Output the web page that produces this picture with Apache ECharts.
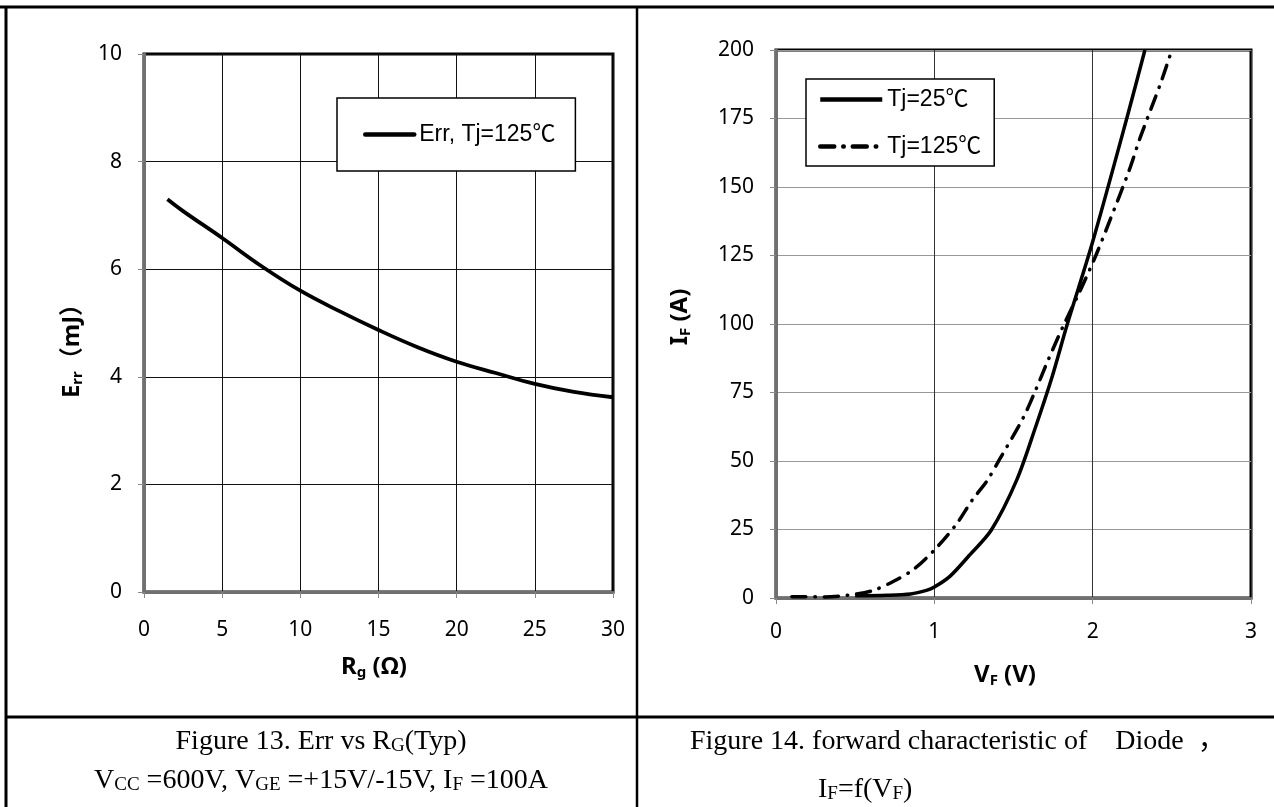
<!DOCTYPE html>
<html>
<head>
<meta charset="utf-8">
<script src="https://cdn.jsdelivr.net/npm/echarts@6/dist/echarts.min.js"></script>
<style>
html,body{margin:0;padding:0;background:#fff;}
#c{width:1274px;height:807px;}
</style>
</head>
<body>
<div id="c"></div>
<script>
// ---- Figure 13 data: Err vs Rg ----
const rgValues = [1.5, 2.5, 5, 7.5, 10, 12.5, 15, 17.5, 20, 22.5, 25, 27.5, 30];
const errValues = [7.3, 7.08, 6.58, 6.06, 5.6, 5.22, 4.87, 4.55, 4.28, 4.07, 3.87, 3.72, 3.62];

// ---- Figure 14 data: forward characteristic ----
const vf25 = [0.5, 0.7, 0.85, 0.95, 1.0, 1.1, 1.22, 1.36, 1.52, 1.64, 1.74, 1.84, 2.0, 2.22, 2.33];
const if25 = [0.8, 1.0, 1.5, 2.8, 4.0, 8.0, 15.5, 24.8, 43, 62.5, 80, 100, 130, 176, 200];
const vf125 = [0.1, 0.3, 0.45, 0.6, 0.74, 0.87, 1.0, 1.14, 1.24, 1.33, 1.41, 1.56, 1.64, 1.72, 1.82, 1.92, 2.02, 2.11, 2.23, 2.30, 2.43, 2.50];
const if125 = [0.5, 0.4, 1.0, 2.5, 6, 10.5, 17.5, 27, 35.8, 42.5, 50.4, 65.6, 75.9, 87, 100, 112, 125, 138, 156, 168, 188, 200];

const seriesNames = ['Err, Tj=125℃', 'Tj=25℃', 'Tj=125℃'];

const zip = (xs, ys) => xs.map((x, i) => [x, ys[i]]);

const tickFont = {fontFamily: 'Noto Sans', fontSize: 21, color: '#000'};
const legendFont = {fontFamily: "'Liberation Sans', 'Noto Sans CJK SC'", fontSize: 23, color: '#000'};
const serif = "'Liberation Serif', 'Noto Sans CJK SC'";
const sans = "'Noto Sans', 'Noto Sans CJK SC'";
const dashDot = [14, 9, 0.5, 9];

const chart = echarts.init(document.getElementById('c'), null, {renderer: 'canvas'});

const titleRich = {
  b: {fontFamily: sans, fontWeight: 'bold', fontSize: 24, fill: '#000', color: '#000'},
  s: {fontFamily: sans, fontWeight: 'bold', fontSize: 15, fill: '#000', color: '#000', padding: [11, 0, 0, 0]}
};
const capRich = {
  t: {fontFamily: serif, fontSize: 28, fill: '#000', color: '#000'},
  s: {fontFamily: serif, fontSize: 19, fill: '#000', color: '#000', padding: [8, 0, 0, 0]}
};

function txt(x, y, text, rich, align, rot) {
  return {
    type: 'text', x: x, y: y, rotation: rot || 0,
    style: {text: text, rich: rich, align: align || 'center', verticalAlign: 'middle'}
  };
}
function line(x1, y1, x2, y2, w) {
  return {type: 'line', shape: {x1, y1, x2, y2}, style: {stroke: '#000', lineWidth: w}};
}

chart.setOption({
  animation: false,
  backgroundColor: '#fff',
  grid: [
    {left: 144, top: 54, width: 469, height: 538, show: true, borderColor: '#000', borderWidth: 3, containLabel: false},
    {left: 776, top: 50, width: 475, height: 548, show: true, borderColor: '#000', borderWidth: 3, containLabel: false}
  ],
  xAxis: [
    {gridIndex: 0, type: 'value', min: 0, max: 30, interval: 5,
     axisLine: {onZero: false, lineStyle: {color: '#707070', width: 3}},
     axisTick: {show: true, length: 6, lineStyle: {color: '#888', width: 1}},
     axisLabel: Object.assign({margin: 28}, tickFont),
     splitLine: {show: true, lineStyle: {color: '#111', width: 1}}},
    {gridIndex: 1, type: 'value', min: 0, max: 3, interval: 1,
     axisLine: {onZero: false, lineStyle: {color: '#707070', width: 3}},
     axisTick: {show: true, length: 6, lineStyle: {color: '#888', width: 1}},
     axisLabel: Object.assign({margin: 24}, tickFont),
     splitLine: {show: true, lineStyle: {color: '#333', width: 1}}}
  ],
  yAxis: [
    {gridIndex: 0, type: 'value', min: 0, max: 10, interval: 2,
     axisLine: {onZero: false, lineStyle: {color: '#707070', width: 3}},
     axisTick: {show: true, length: 6, lineStyle: {color: '#888', width: 1}},
     axisLabel: Object.assign({margin: 22}, tickFont),
     splitLine: {show: true, lineStyle: {color: '#111', width: 1}}},
    {gridIndex: 1, type: 'value', min: 0, max: 200, interval: 25,
     axisLine: {onZero: false, lineStyle: {color: '#707070', width: 3}},
     axisTick: {show: true, length: 6, lineStyle: {color: '#888', width: 1}},
     axisLabel: Object.assign({margin: 22}, tickFont),
     splitLine: {show: true, lineStyle: {color: '#999', width: 1}}}
  ],
  legend: [
    {data: [{name: seriesNames[0], lineStyle: {width: 4.5, color: '#000', cap: 'round'}}],
     left: 337, top: 98, orient: 'vertical',
     backgroundColor: '#fff', borderColor: '#000', borderWidth: 1.5,
     padding: [25, 20, 25, 26], itemWidth: 49, itemHeight: 14,
     itemStyle: {opacity: 0},
     textStyle: legendFont, selectedMode: false},
    {data: [
       {name: seriesNames[1], lineStyle: {width: 4.5, color: '#000', type: 'solid'}},
       {name: seriesNames[2], lineStyle: {width: 4.5, color: '#000', type: dashDot, cap: 'round'}}
     ],
     left: 806, top: 79, orient: 'vertical',
     backgroundColor: '#fff', borderColor: '#000', borderWidth: 1.5,
     padding: [9, 13, 8, 12], itemWidth: 62, itemHeight: 24, itemGap: 24,
     itemStyle: {opacity: 0},
     textStyle: legendFont, selectedMode: false}
  ],
  series: [
    {name: seriesNames[0], type: 'line', xAxisIndex: 0, yAxisIndex: 0,
     data: zip(rgValues, errValues), smooth: 0.4, symbol: 'none', showSymbol: false,
     itemStyle: {color: '#000'}, lineStyle: {color: '#000', width: 3.8}},
    {name: seriesNames[1], type: 'line', xAxisIndex: 1, yAxisIndex: 1,
     data: zip(vf25, if25), smooth: 0.3, symbol: 'none', showSymbol: false,
     itemStyle: {color: '#000'}, lineStyle: {color: '#000', width: 3.5}},
    {name: seriesNames[2], type: 'line', xAxisIndex: 1, yAxisIndex: 1,
     data: zip(vf125, if125), smooth: 0.3, symbol: 'none', showSymbol: false,
     itemStyle: {color: '#000'}, lineStyle: {color: '#000', width: 3.5, type: dashDot, cap: 'round'}}
  ],
  graphic: [
    // table frame
    line(0, 7, 1274, 7, 3),
    line(6, 7, 6, 807, 3),
    line(637, 7, 637, 807, 2.5),
    line(6, 717, 1274, 717, 3),
    // axis titles
    txt(374, 667, '{b|R}{s|g}{b| (Ω)}', titleRich),
    txt(1005, 675, '{b|V}{s|F}{b| (V)}', titleRich),
    txt(72, 345, '{b|E}{s|rr}{b|（mJ）}', titleRich, 'center', Math.PI / 2),
    txt(680, 317, '{b|I}{s|F}{b| (A)}', titleRich, 'center', Math.PI / 2),
    // captions
    txt(321, 742, '{t|Figure 13. Err vs R}{s|G}{t|(Typ)}', capRich),
    txt(321, 781, '{t|V}{s|CC}{t| =600V, V}{s|GE}{t| =+15V/-15V, I}{s|F}{t| =100A}', capRich),
    txt(690, 742, '{t|Figure 14. forward characteristic of    Diode  ，}', capRich, 'left'),
    txt(818, 790, '{t|I}{s|F}{t|=f(V}{s|F}{t|)}', capRich, 'left')
  ]
});
</script>
</body>
</html>
